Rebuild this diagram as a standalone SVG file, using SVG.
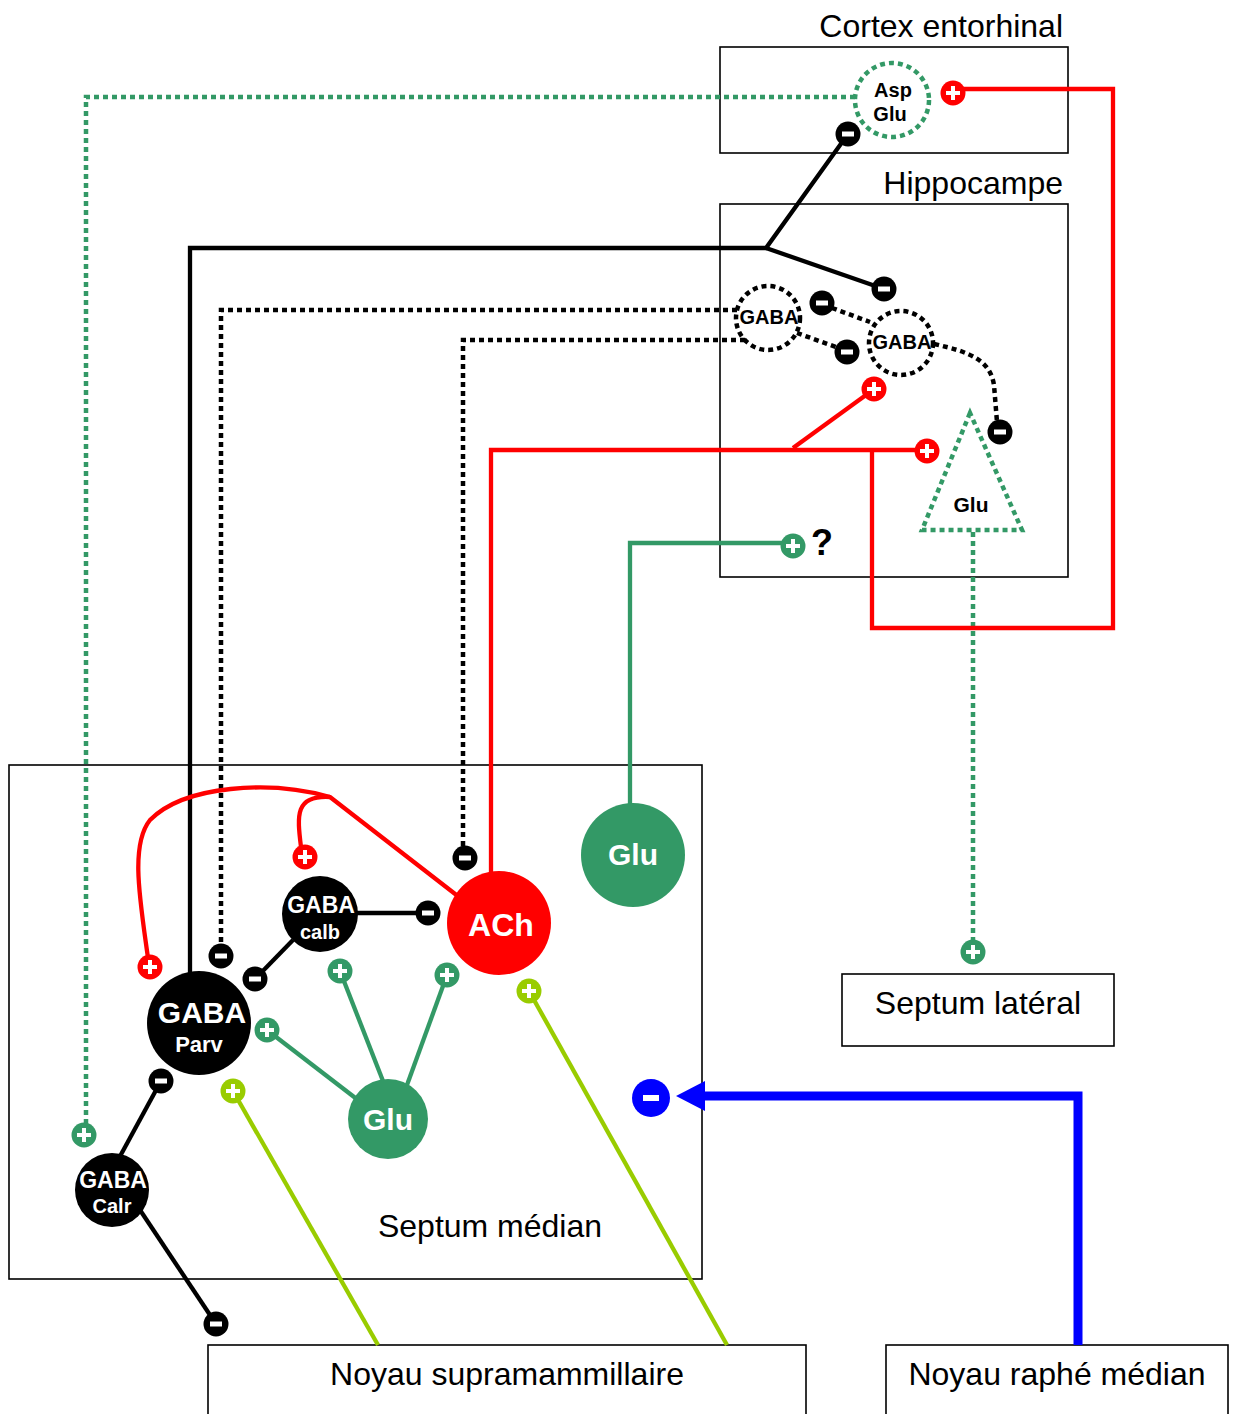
<svg xmlns="http://www.w3.org/2000/svg" xmlns:xlink="http://www.w3.org/1999/xlink" width="1237" height="1414" viewBox="0 0 1237 1414">
<style>
.box{fill:none;stroke:#000;stroke-width:1.6}
.lbl{font-family:"Liberation Sans",Arial,sans-serif;font-size:32px;fill:#000}
.b{font-family:"Liberation Sans",Arial,sans-serif;font-weight:bold;fill:#fff;text-anchor:middle}
.bk{font-family:"Liberation Sans",Arial,sans-serif;font-weight:bold;fill:#000;text-anchor:middle}
.ln{fill:none;stroke-width:4.3}
.dot{fill:none;stroke-width:4.5;stroke-dasharray:5 4}
</style>
<defs>
<g id="pl"><circle r="12.5"/><path d="M-7,0H7M0,-7V7" stroke="#fff" stroke-width="4"/></g>
<g id="mi"><circle r="12.5"/><rect x="-6" y="-2.5" width="12" height="5" fill="#fff"/></g>
</defs>

<g id="regions">
<g id="cortex"><rect class="box" x="720" y="47" width="348" height="106"/><text class="lbl" x="1063" y="37" text-anchor="end">Cortex entorhinal</text></g>
<g id="hippocampe"><rect class="box" x="720" y="204" width="348" height="373"/><text class="lbl" x="1063" y="194" text-anchor="end">Hippocampe</text></g>
<g id="septum-median"><rect class="box" x="9" y="765" width="693" height="514"/><text class="lbl" x="490" y="1237" text-anchor="middle">Septum médian</text></g>
<g id="septum-lateral"><rect class="box" x="842" y="974" width="272" height="72"/><text class="lbl" x="978" y="1014" text-anchor="middle">Septum latéral</text></g>
<g id="supramammillaire"><rect class="box" x="208" y="1345" width="598" height="80"/><text class="lbl" x="507" y="1385" text-anchor="middle">Noyau supramammillaire</text></g>
<g id="raphe"><rect class="box" x="886" y="1345" width="342" height="80"/><text class="lbl" x="1057" y="1385" text-anchor="middle">Noyau raphé médian</text></g>
</g>

<g id="connectors">
<path class="dot" stroke="#339966" d="M855,97 H86 V1125"/>
<path class="dot" stroke="#339966" d="M973,532 V942"/>
<path class="ln" stroke="#000" d="M848,134 L766,248 H190 V980"/>
<path class="ln" stroke="#000" d="M766,248 L884,289"/>
<path class="dot" stroke="#000" d="M737,310 H221 V948"/>
<path class="dot" stroke="#000" d="M745,340 H463 V850"/>
<path class="dot" stroke="#000" d="M832,308 L870,322"/>
<path class="dot" stroke="#000" d="M797,333 L836,347"/>
<path class="dot" stroke="#000" d="M934,344 C970,352 990,360 994,385 L997,422"/>
<path class="ln" stroke="#ff0000" d="M491,880 V450 H918"/>
<path class="ln" stroke="#ff0000" d="M793,448 L866,395"/>
<path class="ln" stroke="#ff0000" d="M872,450 V628 H1113 V89 H963"/>
<path class="ln" stroke="#ff0000" d="M459,897 L330,797 C270,780 185,785 150,820 C130,845 140,900 148,958"/>
<path class="ln" stroke="#ff0000" d="M330,797 C295,795 297,815 301,847"/>
<path class="ln" stroke="#339966" d="M630,806 V543 H785"/>
<path class="ln" stroke="#339966" d="M358,1100 L267,1030"/>
<path class="ln" stroke="#339966" d="M383,1081 L340,971"/>
<path class="ln" stroke="#339966" d="M407,1085 L447,975"/>
<path class="ln" stroke="#000" d="M355,913 H428"/>
<path class="ln" stroke="#000" d="M293,940 L255,979"/>
<path class="ln" stroke="#000" d="M118,1160 L161,1081"/>
<path class="ln" stroke="#000" d="M140,1210 L216,1324"/>
<path class="ln" stroke="#99cc00" d="M233,1091 L378,1345"/>
<path class="ln" stroke="#99cc00" d="M529,991 L727,1345"/>
<path fill="none" stroke="#0000ff" stroke-width="9" d="M1078,1345 V1096 H705"/>
<path d="M676,1096 L705,1081 L705,1111 Z" fill="#0000ff"/>
</g>

<g id="terminals">
<use href="#pl" x="953" y="93" fill="#ff0000"/>
<use href="#mi" x="848" y="134" fill="#000"/>
<use href="#mi" x="884" y="289" fill="#000"/>
<use href="#mi" x="822" y="303" fill="#000"/>
<use href="#mi" x="847" y="352" fill="#000"/>
<use href="#mi" x="1000" y="432" fill="#000"/>
<use href="#pl" x="874" y="389" fill="#ff0000"/>
<use href="#pl" x="927" y="451" fill="#ff0000"/>
<use href="#pl" x="793" y="546" fill="#339966"/>
<use href="#pl" x="973" y="952" fill="#339966"/>
<use href="#pl" x="84" y="1135" fill="#339966"/>
<use href="#pl" x="150" y="967" fill="#ff0000"/>
<use href="#pl" x="305" y="857" fill="#ff0000"/>
<use href="#mi" x="465" y="858" fill="#000"/>
<use href="#mi" x="428" y="913" fill="#000"/>
<use href="#mi" x="221" y="956" fill="#000"/>
<use href="#mi" x="255" y="979" fill="#000"/>
<use href="#pl" x="340" y="971" fill="#339966"/>
<use href="#pl" x="447" y="975" fill="#339966"/>
<use href="#pl" x="267" y="1030" fill="#339966"/>
<use href="#pl" x="529" y="991" fill="#99cc00"/>
<use href="#pl" x="233" y="1091" fill="#99cc00"/>
<use href="#mi" x="161" y="1081" fill="#000"/>
<use href="#mi" x="216" y="1324" fill="#000"/>
<g id="blue-minus"><circle cx="651" cy="1098" r="19" fill="#0000ff"/><rect x="643" y="1095" width="16" height="6" fill="#fff"/></g>
<text class="bk" x="822" y="555" font-size="36">?</text>
</g>

<g id="node-aspglu"><circle cx="892" cy="100" r="37" fill="#fff" stroke="#339966" stroke-width="4.5" stroke-dasharray="5 4"/><text class="bk" x="893" y="97" font-size="20">Asp</text><text class="bk" x="890" y="121" font-size="20">Glu</text></g>
<g id="node-hgaba1"><circle cx="768" cy="318" r="32" fill="none" stroke="#000" stroke-width="4.5" stroke-dasharray="5 4"/><text class="bk" x="769" y="324" font-size="20" font-weight="normal">GABA</text></g>
<g id="node-hgaba2"><circle cx="901" cy="343" r="32" fill="none" stroke="#000" stroke-width="4.5" stroke-dasharray="5 4"/><text class="bk" x="902" y="349" font-size="20" font-weight="normal">GABA</text></g>
<g id="node-hglu"><path d="M970,413 L922,530 H1022 Z" fill="none" stroke="#339966" stroke-width="4.5" stroke-dasharray="5 4"/><text class="bk" x="971" y="512" font-size="21">Glu</text></g>

<g id="node-parv"><circle cx="199" cy="1023" r="52" fill="#000"/><text class="b" x="202" y="1023" font-size="30">GABA</text><text class="b" x="199" y="1052" font-size="22">Parv</text></g>
<g id="node-calb"><circle cx="320" cy="914" r="38" fill="#000"/><text class="b" x="321" y="913" font-size="23">GABA</text><text class="b" x="320" y="939" font-size="20">calb</text></g>
<g id="node-ach"><circle cx="499" cy="923" r="52" fill="#ff0000"/><text class="b" x="501" y="936" font-size="32">ACh</text></g>
<g id="node-glu1"><circle cx="633" cy="855" r="52" fill="#339966"/><text class="b" x="633" y="865" font-size="30">Glu</text></g>
<g id="node-glu2"><circle cx="388" cy="1119" r="40" fill="#339966"/><text class="b" x="388" y="1130" font-size="30">Glu</text></g>
<g id="node-calr"><circle cx="112" cy="1190" r="37" fill="#000"/><text class="b" x="113" y="1188" font-size="23">GABA</text><text class="b" x="112" y="1213" font-size="20">Calr</text></g>
</svg>
